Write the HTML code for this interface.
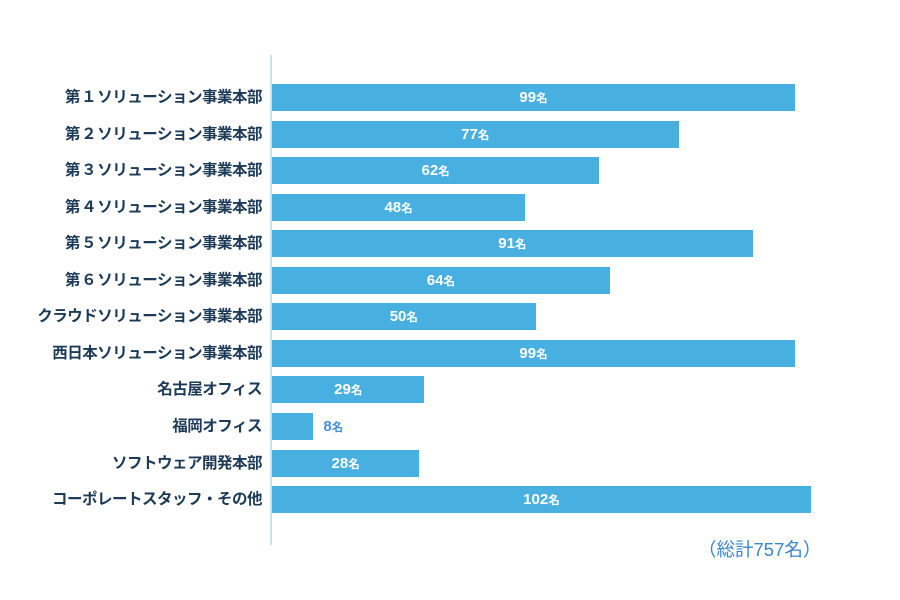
<!DOCTYPE html>
<html><head><meta charset="utf-8"><style>
body{margin:0;width:900px;height:600px;background:#fff;position:relative;overflow:hidden;font-family:"Liberation Sans","Noto Sans CJK JP",sans-serif}
.ax{position:absolute;left:270px;top:55px;width:2px;height:490px;background:#c3e2f2}
.lb{position:absolute;right:638px;height:27px;line-height:27px;font-size:15.5px;font-weight:bold;color:#1d3a57;white-space:nowrap;letter-spacing:-0.5px}
.bar{position:absolute;left:272px;height:27px;background:#47b0e0}
.v{position:absolute;height:27px;line-height:27px;font-size:15px;font-weight:bold;color:#fff;white-space:nowrap;transform:translateX(-50%)}
.v small{font-size:11.5px}
.tot{position:absolute;left:698px;top:536px;font-size:18.5px;color:#3a86c8}
</style></head><body>
<div class="ax"></div>
<div id="c"></div>
<div class="tot">（総計757名）</div>
<script>
var d=[["第 １ ソリューション事業本部",99],["第 ２ ソリューション事業本部",77],["第 ３ ソリューション事業本部",62],["第 ４ ソリューション事業本部",48],["第 ５ ソリューション事業本部",91],["第 ６ ソリューション事業本部",64],["クラウドソリューション事業本部",50],["西日本ソリューション事業本部",99],["名古屋オフィス",29],["福岡オフィス",8],["ソフトウェア開発本部",28],["コーポレートスタッフ・その他",102]];
var h="",s=5.293;
d.forEach(function(r,i){var t=84+i*36.55,w=r[1]*s-1;
h+='<div class="lb" style="top:'+t+'px">'+r[0].replace(/ /g,'<span style="font-size:6px"> </span>')+'</div>';
h+='<div class="bar" style="top:'+t+'px;width:'+w+'px"></div>';
if(r[1]<15)h+='<div class="v" style="top:'+t+'px;left:'+(272+w+20)+'px;color:#4a8fd6">'+r[1]+'<small>名</small></div>';
else h+='<div class="v" style="top:'+t+'px;left:'+(272+w/2)+'px">'+r[1]+'<small>名</small></div>';});
document.getElementById("c").innerHTML=h;
</script>
</body></html>
